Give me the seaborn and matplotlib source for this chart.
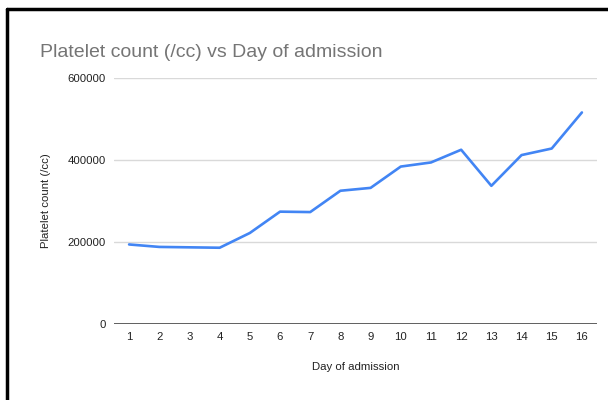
import matplotlib
matplotlib.use("Agg")
import matplotlib.pyplot as plt
from matplotlib.lines import Line2D
import seaborn as sns
import pandas as pd

days = list(range(1, 17))
platelets = [194000, 188000, 187000, 186000, 222000, 274000, 273000, 325000,
             332000, 384000, 394000, 425000, 337000, 412000, 428000, 516000]
yticks = [0, 200000, 400000, 600000]

sns.set_theme(style="white")
plt.rcParams['font.family'] = ['Liberation Sans', 'DejaVu Sans']

df = pd.DataFrame({"Day of admission": days, "Platelet count (/cc)": platelets})

fig = plt.figure(figsize=(6.08, 4.0), dpi=100)
ax = fig.add_axes([114/608, 1-324/400, (597-114)/608, (324-78)/400])

for t in yticks[1:]:
    ax.axhline(t, color="#d9d9d9", lw=1, zorder=0)
ax.axhline(0, color="#444444", lw=1.2, zorder=1)

sns.lineplot(data=df, x="Day of admission", y="Platelet count (/cc)", ax=ax,
             color="#4285F4", lw=1.9, zorder=3)

ax.set_xlim(0.5, 16.5)
ax.set_ylim(0, 600000)
ax.set_xticks(days)
ax.set_xticklabels([str(d) for d in days])
ax.set_yticks(yticks)
ax.set_yticklabels([str(t) for t in yticks])
ax.tick_params(axis="both", length=0, labelsize=8.2, colors="#222222")
ax.tick_params(axis="y", pad=6)
ax.tick_params(axis="x", pad=6)
for s in ax.spines.values():
    s.set_visible(False)
ax.grid(False)

ax.set_xlabel("Day of admission", fontsize=8.2, color="#222222", labelpad=14)
ax.set_ylabel("Platelet count (/cc)", fontsize=8.2, color="#222222", labelpad=12)

fig.text(40/608, 1-57/400, "Platelet count (/cc) vs Day of admission",
         fontsize=14, color="#757575", ha="left", va="baseline")

fig.add_artist(Line2D([7/608, 1], [1-9/400, 1-9/400], transform=fig.transFigure,
                      color="black", lw=2.5))
fig.add_artist(Line2D([7/608, 7/608], [0, 1-9/400], transform=fig.transFigure,
                      color="black", lw=2.5))

fig.savefig("out.png", dpi=100, facecolor="white")
